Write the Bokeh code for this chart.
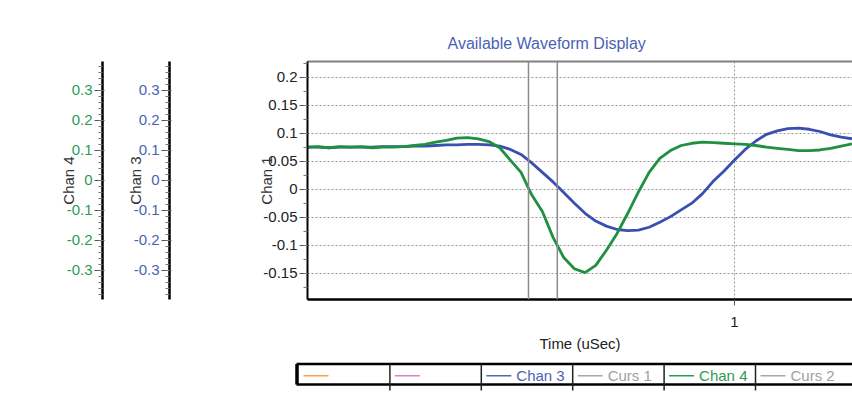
from bokeh.plotting import figure
from bokeh.models import (Range1d, LinearAxis, FixedTicker, Span, SingleIntervalTicker,
                          NumeralTickFormatter)
from bokeh.embed import file_html
from bokeh.resources import INLINE
from bokeh.core.properties import value

# ---------------- data ----------------
time_us = [0.20, 0.22, 0.24, 0.26, 0.28, 0.30, 0.32, 0.34, 0.36, 0.38,
           0.40, 0.42, 0.44, 0.46, 0.48, 0.50, 0.52, 0.54, 0.56, 0.58,
           0.60, 0.62, 0.64, 0.66, 0.68, 0.70, 0.72, 0.74, 0.76, 0.78,
           0.80, 0.82, 0.84, 0.86, 0.88, 0.90, 0.92, 0.94, 0.96, 0.98,
           1.00, 1.02, 1.04, 1.06, 1.08, 1.10, 1.12, 1.14, 1.16, 1.18,
           1.20, 1.22]
chan3 = [0.075, 0.075, 0.074, 0.075, 0.075, 0.075, 0.075, 0.076, 0.076, 0.076,
         0.077, 0.077, 0.078, 0.079, 0.079, 0.080, 0.080, 0.079, 0.077, 0.071,
         0.062, 0.047, 0.030, 0.013, -0.006, -0.025, -0.043, -0.057, -0.066, -0.072,
         -0.074, -0.073, -0.068, -0.059, -0.049, -0.037, -0.025, -0.008, 0.014, 0.032,
         0.052, 0.071, 0.086, 0.098, 0.104, 0.108, 0.109, 0.107, 0.103, 0.097,
         0.093, 0.090]
chan4 = [0.075, 0.076, 0.074, 0.076, 0.075, 0.076, 0.074, 0.075, 0.075, 0.076,
         0.078, 0.080, 0.084, 0.087, 0.091, 0.092, 0.090, 0.085, 0.074, 0.052,
         0.030, -0.010, -0.040, -0.086, -0.122, -0.142, -0.149, -0.136, -0.109, -0.079,
         -0.043, -0.005, 0.030, 0.055, 0.069, 0.078, 0.082, 0.084, 0.083, 0.082,
         0.081, 0.080, 0.078, 0.075, 0.073, 0.071, 0.069, 0.069, 0.070, 0.073,
         0.077, 0.081]
cursor_times = [0.614, 0.668]
x_ticks = [1]

legend_labels = ["", "", "Chan 3", "Curs 1", "Chan 4", "Curs 2"]
legend_line_colors = ["#f7a348", "#e07fd2", "#5068b8", "#a8a8a8", "#2f9a55", "#a8a8a8"]
legend_text_colors = ["#f7a348", "#e07fd2", "#4a62b5", "#a0a0a0", "#2f9a55", "#a0a0a0"]

# ---------------- style ----------------
FONT = "Liberation Sans"
BLUE_LINE = "#3a4fb0"
GREEN_LINE = "#1f8f40"
BLUE_TXT = "#4a62b5"
GREEN_TXT = "#2f9a55"
W = 852

p = figure(width=W, height=355, x_range=Range1d(0.2, 1.221), y_range=Range1d(-0.197, 0.228),
           output_backend="svg", toolbar_location=None,
           min_border_left=307, min_border_right=0, min_border_top=61, min_border_bottom=56)
p.outline_line_color = None
p.background_fill_color = "white"
p.border_fill_color = "white"

p.title.text = "Available Waveform Display"
p.title.align = "left"
p.title.offset = 140
p.title.standoff = 20
p.title.text_font = FONT
p.title.text_font_size = "16px"
p.title.text_font_style = "normal"
p.title.text_color = BLUE_TXT

xax = p.below[0]
yax = p.left[0]

# top border
top_axis = LinearAxis(ticker=FixedTicker(ticks=[]), axis_line_color="#808080", axis_line_width=2,
                      major_tick_out=0, major_tick_in=0, minor_tick_out=0, minor_tick_in=0,
                      major_label_standoff=0)
p.add_layout(top_axis, "above")

# main y axis (Chan 1)
main_ticker = SingleIntervalTicker(interval=0.05, num_minor_ticks=2)
yax.ticker = main_ticker
yax.formatter = NumeralTickFormatter(format="0.[00]")
yax.axis_label = "Chan 1"
yax.axis_label_standoff = -15
yax.axis_label_text_font = FONT
yax.axis_label_text_font_size = "15px"
yax.axis_label_text_font_style = "normal"
yax.axis_label_text_color = "#333333"
yax.major_label_text_font = FONT
yax.major_label_text_font_size = "15px"
yax.major_label_text_color = "#222222"
yax.major_label_standoff = 2
yax.axis_line_color = "black"
yax.axis_line_width = 2
yax.major_tick_out = 8
yax.major_tick_in = 0
yax.minor_tick_out = 4
yax.minor_tick_in = 0
yax.major_tick_line_color = "#555555"
yax.minor_tick_line_color = "#777777"

# x axis
xax.ticker = FixedTicker(ticks=x_ticks)
xax.formatter = NumeralTickFormatter(format="0.[00]")
xax.axis_label = "Time (uSec)"
xax.axis_label_standoff = 5
xax.axis_label_text_font = FONT
xax.axis_label_text_font_size = "15px"
xax.axis_label_text_font_style = "normal"
xax.axis_label_text_color = "#222222"
xax.major_label_text_font = FONT
xax.major_label_text_font_size = "15px"
xax.major_label_text_color = "#222222"
xax.major_label_standoff = 11
xax.axis_line_color = "black"
xax.axis_line_width = 2.5
xax.major_tick_out = 6
xax.major_tick_in = 0
xax.minor_tick_line_color = None
xax.major_tick_line_color = "#555555"

# grids
p.ygrid.ticker = main_ticker
p.ygrid.grid_line_color = "#9a9a9a"
p.ygrid.grid_line_dash = "2 2"
p.ygrid.grid_line_width = 1
p.xgrid.ticker = FixedTicker(ticks=x_ticks)
p.xgrid.grid_line_color = "#9a9a9a"
p.xgrid.grid_line_dash = "2 2"
p.xgrid.grid_line_width = 1

# extra channel axes on the left
p.extra_y_ranges = {"ch3": Range1d(-0.398, 0.395), "ch4": Range1d(-0.398, 0.395)}


def spacer(gap):
    return LinearAxis(y_range_name="ch3", ticker=FixedTicker(ticks=[]), axis_line_color=None,
                      major_tick_out=0, major_tick_in=0, minor_tick_out=0, minor_tick_in=0,
                      major_label_standoff=0, axis_label=" ", axis_label_standoff=gap,
                      axis_label_text_font=FONT, axis_label_text_font_size="15px",
                      axis_label_text_color="white")


def chan_axis(name, label, color, standoff):
    return LinearAxis(y_range_name=name,
                      ticker=SingleIntervalTicker(interval=0.1, num_minor_ticks=5),
                      formatter=NumeralTickFormatter(format="0.[0]"),
                      axis_label=label, axis_label_standoff=standoff,
                      axis_label_text_font=FONT, axis_label_text_font_size="15px",
                      axis_label_text_font_style="normal", axis_label_text_color="#333333",
                      major_label_text_font=FONT, major_label_text_font_size="15px",
                      major_label_text_color=color, major_label_standoff=2,
                      axis_line_color="black", axis_line_width=2.5,
                      major_tick_out=8, major_tick_in=2, minor_tick_out=4, minor_tick_in=0,
                      major_tick_line_color="#555555", minor_tick_line_color="#777777")


p.add_layout(spacer(66), "left")
p.add_layout(chan_axis("ch3", "Chan 3", BLUE_TXT, -13), "left")
p.add_layout(spacer(1), "left")
p.add_layout(chan_axis("ch4", "Chan 4", GREEN_TXT, -13), "left")

# waveforms
p.line(time_us, chan3, line_color=BLUE_LINE, line_width=2.8)
p.line(time_us, chan4, line_color=GREEN_LINE, line_width=2.8)

# cursors
for c in cursor_times:
    p.add_layout(Span(location=c, dimension="height", line_color="#8c8c8c", line_width=1.5))

# ---------------- legend strip (separate root, pixel coordinates) ----------------
LG_H = 40
lg = figure(width=W, height=LG_H, x_range=Range1d(0, W), y_range=Range1d(LG_H, 0),
            output_backend="svg", toolbar_location=None, min_border=0)
lg.outline_line_color = None
lg.axis.visible = False
lg.grid.visible = False
lg.background_fill_color = "white"
lg.border_fill_color = "white"

cell_left0 = 298
cell_w = 91.4
box_top, box_bot, sep_bot = 8.5, 29, 35
mid_y = 20.3
n = len(legend_labels)
lefts = [cell_left0 + i * cell_w for i in range(n)]

lg.segment(x0=[cell_left0 - 2, cell_left0 - 2], y0=[box_top, box_bot], x1=[W, W], y1=[box_top, box_bot],
           line_color="black", line_width=2.5)
lg.segment(x0=[cell_left0 - 1.5], y0=[box_top], x1=[cell_left0 - 1.5], y1=[box_bot],
           line_color="black", line_width=3.5)
lg.segment(x0=lefts[1:], y0=[box_top] * (n - 1), x1=lefts[1:], y1=[sep_bot] * (n - 1),
           line_color="#222222", line_width=1.5)
lg.segment(x0=[l + 5 for l in lefts], y0=[mid_y] * n, x1=[l + 30 for l in lefts], y1=[mid_y] * n,
           line_color=legend_line_colors, line_width=1.5)
lg.text(x=[l + 35 for l in lefts], y=[mid_y] * n, text=legend_labels,
        text_font=value(FONT), text_font_size="15px", text_baseline="middle",
        text_color=legend_text_colors)

open("out.html", "w").write(file_html((p, lg), INLINE))
